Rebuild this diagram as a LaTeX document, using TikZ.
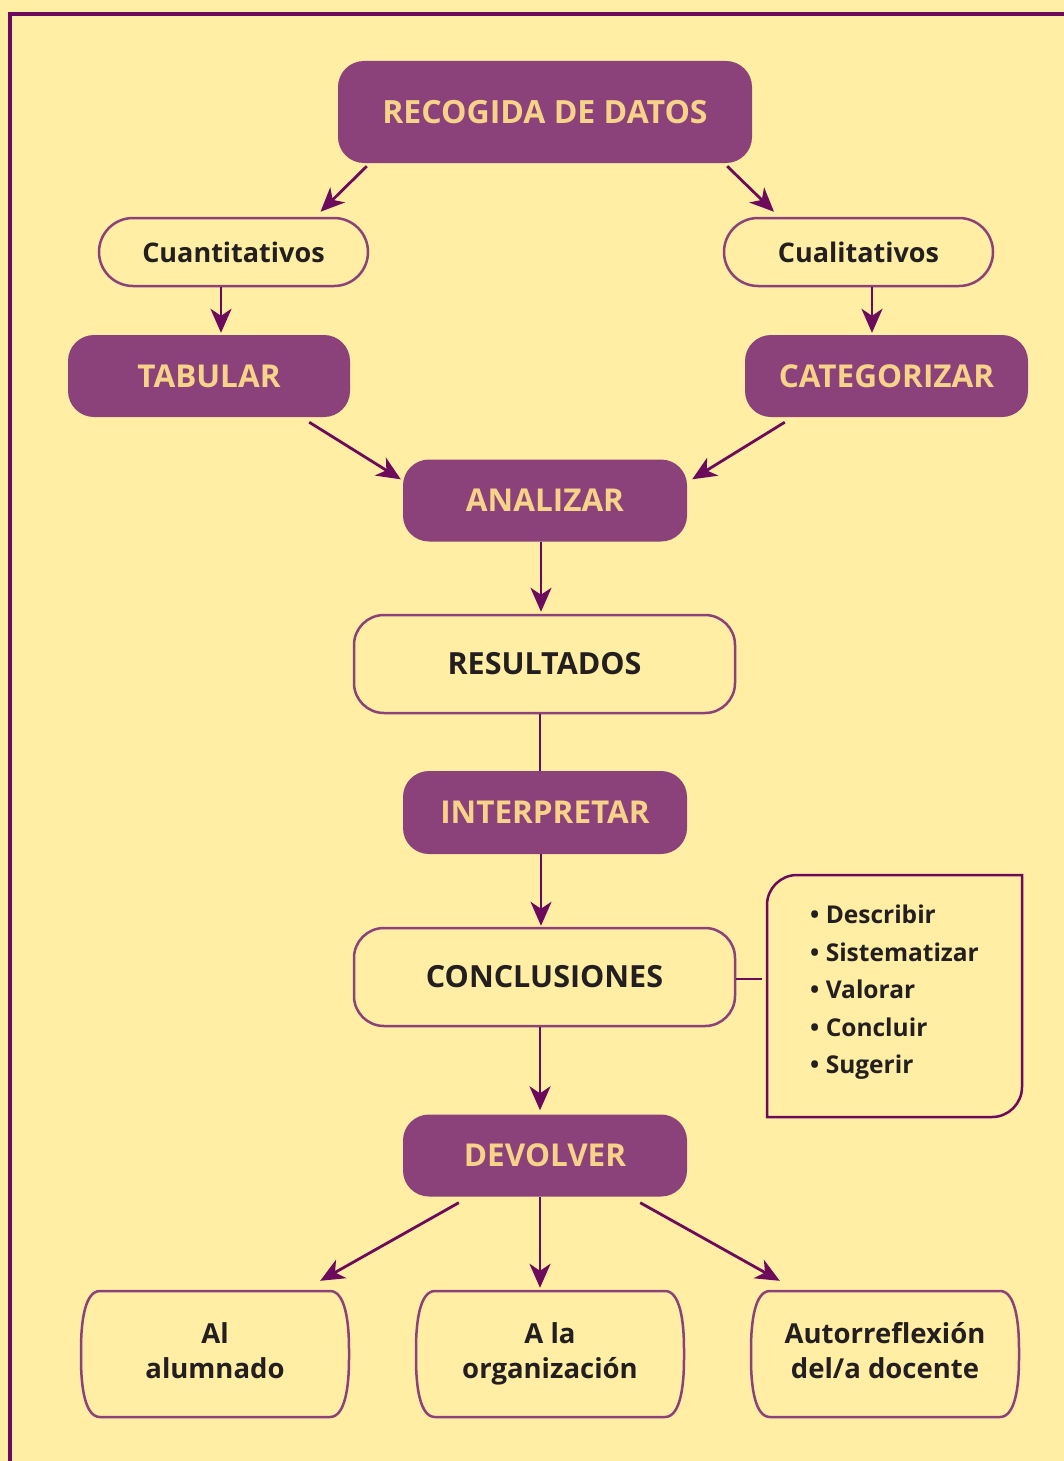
\documentclass[tikz,border=0pt]{standalone}
\usepackage{fontspec}
\setmainfont{Open Sans}
\usetikzlibrary{arrows.meta,calc}
\definecolor{bgc}{HTML}{FFEEA4}
\definecolor{pfill}{HTML}{8B4179}
\definecolor{ptext}{HTML}{F6D388}
\definecolor{arrc}{HTML}{6C0A5C}
\definecolor{pline}{HTML}{8B4179}
\definecolor{dtext}{HTML}{231F20}
\newcommand\barrelbox[4]{%
  \draw[bline] (#1+19,#2) -- (#3-19,#2)
   .. controls (#3-4,#2) and (#3,#2+30) .. (#3,#2+58) -- (#3,#4-58)
   .. controls (#3,#4-30) and (#3-4,#4) .. (#3-19,#4) -- (#1+19,#4)
   .. controls (#1+4,#4) and (#1,#4-30) .. (#1,#4-58) -- (#1,#2+58)
   .. controls (#1,#2+30) and (#1+4,#2) .. (#1+19,#2) -- cycle;}
\begin{document}
\begin{tikzpicture}[x=1pt,y=-1pt,
  fbox/.style={fill=pfill, rounded corners=26pt, text=ptext, inner sep=0pt,
    font=\bfseries\fontsize{31.5}{36}\selectfont, minimum height=82pt},
  obox/.style={draw=pline, line width=2.5pt, inner sep=0pt, text=dtext,
    font=\bfseries\fontsize{27}{32}\selectfont},
  bline/.style={draw=pline, line width=2.5pt},
  arr/.style={draw=arrc, line width=2.8pt, -{Stealth[length=24pt,width=21pt,inset=7pt]}},
  plainline/.style={draw=arrc, line width=2.8pt},
  btext/.style={text=dtext, align=center, inner sep=0pt,
    font=\bfseries\fontsize{27.5}{35}\selectfont}
]
\useasboundingbox (0,0) rectangle (1064,1461);
\fill[bgc] (0,0) rectangle (1064,1461);
% frame
\draw[draw=arrc, line width=4pt] (10,1461) -- (10,14) -- (1064,14);

\node[fbox, minimum width=414pt, minimum height=102pt, font=\bfseries\fontsize{32}{36}\selectfont] (rec) at (545,112) {RECOGIDA DE DATOS};
\node[obox, rounded corners=34pt, minimum width=269pt, minimum height=68pt] (cuan) at (233.5,252) {Cuantitativos};
\node[obox, rounded corners=34pt, minimum width=269pt, minimum height=68pt] (cual) at (858.5,252) {Cualitativos};
\node[fbox, minimum width=282pt] (tab) at (209,376) {TABULAR};
\node[fbox, minimum width=283pt] (cat) at (886.5,376) {CATEGORIZAR};
\node[fbox, minimum width=284pt] (ana) at (545,500.5) {ANALIZAR};
\node[obox, rounded corners=30pt, minimum width=381pt, minimum height=98pt, font=\bfseries\fontsize{30.5}{34}\selectfont] (res) at (544.5,664) {RESULTADOS};
\node[fbox, minimum width=284pt, minimum height=83pt] (int) at (545,812.5) {INTERPRETAR};
\node[obox, rounded corners=30pt, minimum width=381pt, minimum height=98pt, font=\bfseries\fontsize{30.5}{34}\selectfont] (con) at (544.5,977) {CONCLUSIONES};
\node[fbox, minimum width=284pt] (dev) at (545,1155.5) {DEVOLVER};

% bullet box
\draw[bline, draw=arrc] (767,1117) -- (767,905) .. controls (767,888.5) and (780.5,875) .. (797,875)
  -- (1022,875) -- (1022,1087) .. controls (1022,1103.5) and (1008.5,1117) .. (992,1117) -- cycle;
\node[anchor=north west, align=left, text=dtext, inner sep=0pt,
  font=\bfseries\fontsize{24.5}{37.5}\selectfont] (bul) at (810,905)
  {• Describir\\• Sistematizar\\• Valorar\\• Concluir\\• Sugerir};

% bottom boxes
\barrelbox{81}{1291}{349}{1417}
\barrelbox{416}{1291}{684}{1417}
\barrelbox{751}{1291}{1019}{1417}
\node[btext, minimum width=268pt, minimum height=126pt] (b1) at (215,1354) {Al\\alumnado\vphantom{g}};
\node[btext, minimum width=268pt, minimum height=126pt] (b2) at (550,1354) {A la\\organización};
\node[btext, minimum width=268pt, minimum height=126pt] (b3) at (885,1354) {Autorreflexión\\del/a docente\vphantom{g}};

% connectors
\draw[arr] ($(rec.south west)+(29,3)$) -- ($(cuan.north)+(87,-5)$);
\draw[arr] ($(rec.south east)+(-25,3)$) -- ($(cual.north)+(-84.5,-5)$);
\draw[arr] ($(cuan.south)+(-12.5,0)$) -- ($(tab.north)+(12,-2)$);
\draw[arr] ($(cual.south)+(13.5,0)$) -- ($(cat.north)+(-14.5,-2)$);
\draw[arr] ($(tab.south east)+(-41,5)$) -- ($(ana.north west)+(-2,20)$);
\draw[arr] ($(cat.south west)+(40,5)$) -- ($(ana.north east)+(5,20)$);
\draw[arr] ($(ana.south)+(-4,0)$) -- ($(res.north)+(-3.5,-2)$);
\draw[plainline] ($(res.south)+(-4.5,0)$) -- ($(int.north)+(-5,0)$);
\draw[arr] ($(int.south)+(-4,0)$) -- ($(con.north)+(-3.5,-1)$);
\coordinate (bulL) at (762,979);
\draw[plainline, line width=2.5pt] ($(con.east)+(0,2)$) -- (bulL);
\draw[arr] ($(con.south)+(-4.5,0)$) -- ($(dev.north)+(-5,-4)$);
\draw[arr] ($(dev.south west)+(56,6)$) -- ($(b1.north east)+(-29,-10)$);
\draw[arr] ($(dev.south)+(-5,0)$) -- ($(b2.north)+(-10,-3)$);
\draw[arr] ($(dev.south east)+(-47,6)$) -- ($(b3.north west)+(29,-10)$);
\end{tikzpicture}
\end{document}
